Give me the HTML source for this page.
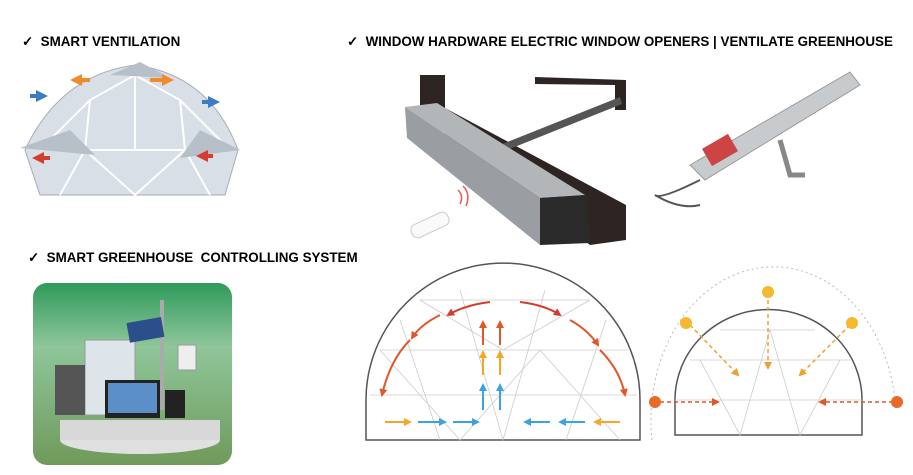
<!DOCTYPE html>
<html><head><meta charset="utf-8"><style>
html,body{margin:0;padding:0;background:#fff;}
body{width:913px;height:475px;position:relative;overflow:hidden;font-family:"Liberation Sans",sans-serif;}
.t{position:absolute;font-weight:bold;font-size:13.4px;color:#000;white-space:nowrap;}
</style></head><body>
<div class="t" style="left:22px;top:34px;">✓&nbsp; SMART VENTILATION</div>
<div class="t" style="left:347px;top:34px;">✓&nbsp; WINDOW HARDWARE ELECTRIC WINDOW OPENERS | VENTILATE GREENHOUSE</div>
<div class="t" style="left:28px;top:250px;">✓&nbsp; SMART GREENHOUSE&nbsp; CONTROLLING SYSTEM</div>
<svg width="913" height="475" style="position:absolute;left:0;top:0">
<defs>
<marker id="ar" markerUnits="userSpaceOnUse" markerWidth="8" markerHeight="8" refX="6" refY="4" orient="auto"><path d="M0,0L8,4L0,8z" fill="context-stroke"/></marker>
<marker id="ab" markerUnits="userSpaceOnUse" markerWidth="12" markerHeight="12" refX="6" refY="6" orient="auto"><path d="M0,0L12,6L0,12z" fill="context-stroke"/></marker>
<linearGradient id="g1" x1="0" y1="0" x2="0" y2="1"><stop offset="0" stop-color="#2f9a5a"/><stop offset="0.35" stop-color="#8fc69a"/><stop offset="1" stop-color="#6f9a5a"/></linearGradient>
</defs>
<!-- smart ventilation dome -->
<path d="M25,150 Q60,75 135,65 Q210,75 238,150 L225,195 L40,195 Z" fill="#d8dfe6" stroke="#aab"/>
<g stroke="#fff" stroke-width="2" fill="none">
<path d="M40,150 L90,100 L135,75 L180,100 L230,150"/><path d="M60,195 L85,150 L135,150 L185,150 L210,195"/><path d="M90,100 L85,150 M180,100 L185,150 M135,75 L135,150 M85,150 L135,195 L185,150"/>
</g>
<path d="M20,148 L70,130 L95,155 Z" fill="#b7c0c9"/><path d="M200,130 L240,150 L180,158Z" fill="#b7c0c9"/>
<path d="M110,75 L140,62 L170,78 Z" fill="#b7c0c9"/>
<g stroke-width="4">
<line x1="30" y1="96" x2="42" y2="96" stroke="#3b7dc4" marker-end="url(#ab)"/>
<line x1="202" y1="102" x2="214" y2="102" stroke="#3b7dc4" marker-end="url(#ab)"/>
<line x1="50" y1="158" x2="38" y2="158" stroke="#d43c30" marker-end="url(#ab)"/>
<line x1="213" y1="156" x2="202" y2="156" stroke="#d43c30" marker-end="url(#ab)"/>
<line x1="90" y1="80" x2="76" y2="80" stroke="#f08a2a" marker-end="url(#ab)"/>
<line x1="150" y1="80" x2="168" y2="80" stroke="#f08a2a" marker-end="url(#ab)"/>
</g>
<!-- window opener photo 1 -->
<path d="M420,75 L445,75 L445,112 L420,112Z" fill="#2e2523"/>
<path d="M445,108 L626,205 L626,240 L590,245 L445,135Z" fill="#2e2523"/>
<path d="M535,77 L626,80 L626,110 L615,110 L615,85 L535,84Z" fill="#2e2523"/>
<path d="M500,145 L620,97 L622,104 L502,152Z" fill="#555"/>
<path d="M405,107 L437,103 L585,195 L540,198Z" fill="#b3b6b9"/>
<path d="M405,107 L540,198 L540,245 L407,138Z" fill="#9a9ea2"/>
<path d="M540,198 L587,195 L590,243 L540,245Z" fill="#2a2a2a"/>
<rect x="410" y="218" width="40" height="14" rx="6" fill="#fafafa" stroke="#ccc" transform="rotate(-25 430 225)"/>
<path d="M458,190 q6,6 2,14 M463,186 q8,8 3,20" stroke="#e55" stroke-width="1.5" fill="none"/>
<!-- window opener photo 2 -->
<path d="M690,165 L850,72 L860,85 L705,180Z" fill="#c8cbcd" stroke="#999"/>
<rect x="705" y="140" width="30" height="20" fill="#c44" transform="rotate(-30 720 150)"/>
<path d="M780,140 L790,175 L805,175" stroke="#888" stroke-width="5" fill="none"/>
<path d="M700,180 Q660,200 655,195 Q680,210 700,205" stroke="#555" stroke-width="2" fill="none"/>
<!-- controlling system photo -->
<rect x="33" y="283" width="199" height="182" rx="14" fill="url(#g1)"/>
<ellipse cx="140" cy="440" rx="80" ry="14" fill="#e0e0e0"/>
<rect x="60" y="420" width="160" height="20" fill="#d8d8d8"/>
<rect x="85" y="340" width="50" height="75" fill="#dde4ea" stroke="#999"/>
<rect x="55" y="365" width="30" height="50" fill="#555"/>
<rect x="105" y="380" width="55" height="38" fill="#222"/><rect x="108" y="383" width="49" height="30" fill="#5a8fc7"/>
<rect x="165" y="390" width="20" height="28" fill="#222"/>
<rect x="160" y="300" width="4" height="110" fill="#aaa"/><rect x="128" y="320" width="35" height="20" fill="#2b4f8a" transform="rotate(-10 145 330)"/>
<rect x="178" y="345" width="18" height="25" fill="#eee" stroke="#999"/>
<!-- dome diagram 1 -->
<g fill="none">
<path d="M366,440 L366,400 A137,137 0 0 1 640,400 L640,440 Z" stroke="#555" stroke-width="1.5" fill="#fff"/>
<g stroke="#ccc" stroke-width="0.8">
<path d="M380,350 L630,350 M370,395 L637,395 M420,300 L590,300 M400,320 L440,440 M460,290 L503,440 L545,290 M606,320 L566,440 M380,350 L460,440 L540,350 L620,440 M420,300 L503,350 L590,300"/>
</g>
<g stroke-width="2">
<path d="M410,340 Q390,360 382,395" stroke="#e0572a" marker-end="url(#ar)"/>
<path d="M440,315 Q420,325 412,338" stroke="#e0572a" marker-end="url(#ar)"/>
<path d="M490,302 Q465,305 448,315" stroke="#d43c30" marker-end="url(#ar)"/>
<path d="M520,302 Q545,305 560,315" stroke="#d43c30" marker-end="url(#ar)"/>
<path d="M570,320 Q588,330 598,345" stroke="#e0572a" marker-end="url(#ar)"/>
<path d="M600,350 Q620,370 625,395" stroke="#e0572a" marker-end="url(#ar)"/>
<path d="M385,422 L410,422" stroke="#f5a623" marker-end="url(#ar)"/>
<path d="M418,422 L445,422" stroke="#3ba4e0" marker-end="url(#ar)"/>
<path d="M453,422 L478,422" stroke="#3ba4e0" marker-end="url(#ar)"/>
<path d="M620,422 L595,422" stroke="#f5a623" marker-end="url(#ar)"/>
<path d="M585,422 L560,422" stroke="#3ba4e0" marker-end="url(#ar)"/>
<path d="M550,422 L525,422" stroke="#3ba4e0" marker-end="url(#ar)"/>
<path d="M483,410 L483,385" stroke="#3ba4e0" marker-end="url(#ar)"/><path d="M500,410 L500,385" stroke="#3ba4e0" marker-end="url(#ar)"/>
<path d="M483,375 L483,352" stroke="#f5a623" marker-end="url(#ar)"/><path d="M500,375 L500,352" stroke="#f5a623" marker-end="url(#ar)"/>
<path d="M483,345 L483,322" stroke="#e0572a" marker-end="url(#ar)"/><path d="M500,345 L500,322" stroke="#e0572a" marker-end="url(#ar)"/>
</g>
</g>
<!-- dome diagram 2 -->
<path d="M652,440 A120,150 0 0 1 895,400" stroke="#bbb" stroke-dasharray="2,3" fill="none"/>
<path d="M675,435 L675,400 A93,90 0 0 1 862,400 L862,435 Z" stroke="#555" stroke-width="1.5" fill="#fff"/>
<g stroke="#ccc" stroke-width="0.8" fill="none"><path d="M690,360 L850,360 M720,330 L815,330 M700,360 L740,435 L770,330 L800,435 L840,360 M675,400 L862,400"/></g>
<g stroke="#f0a030" stroke-width="1.5" stroke-dasharray="4,3" fill="none">
<path d="M768,300 L768,368" marker-end="url(#ar)"/>
<path d="M690,325 L738,375" marker-end="url(#ar)"/>
<path d="M850,325 L800,375" marker-end="url(#ar)"/>
<path d="M660,402 L718,402" stroke="#e0572a" marker-end="url(#ar)"/>
<path d="M893,402 L820,402" stroke="#e0572a" marker-end="url(#ar)"/>
</g>
<g fill="#f5b82e"><circle cx="768" cy="292" r="6"/><circle cx="686" cy="323" r="6"/><circle cx="852" cy="323" r="6"/></g>
<g fill="#e86a2a"><circle cx="655" cy="402" r="6"/><circle cx="897" cy="402" r="6"/></g>
</svg>
</body></html>
